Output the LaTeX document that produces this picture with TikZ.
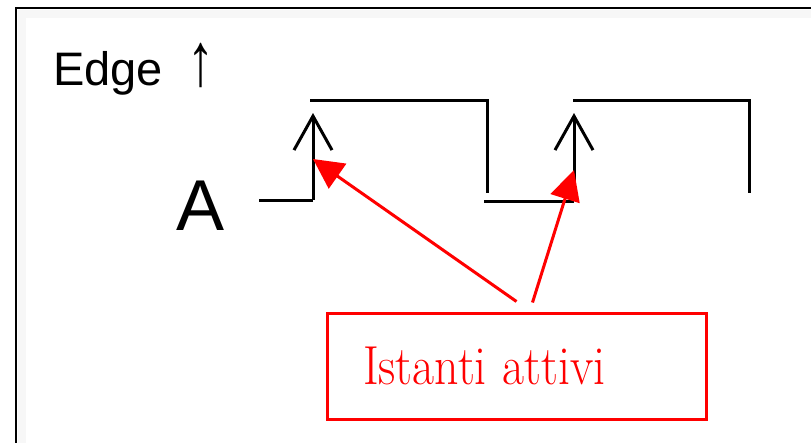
\documentclass[tikz,border=0pt]{standalone}
\usepackage{fontspec}
\newfontfamily\arialsans{Liberation Sans}
\usetikzlibrary{positioning,arrows.meta,calc}
\tikzset{
  wave/.style={line width=3pt},
  edgeup/.style={wave, -{Straight Barb[length=34pt,width=38pt,line width=3pt]}},
  pointer/.style={red, line width=3pt, -{Triangle[length=30pt,width=30pt]}},
  labelbox/.style={draw=red, text=red, line width=3pt, minimum height=106pt,
    text width=307pt, inner xsep=36pt, align=left, font=\fontsize{55}{60}\selectfont}
}

\begin{document}
\begin{tikzpicture}[x=1pt, y=-1pt]
  \useasboundingbox (0,0) rectangle (811,442);
  \clip (0,0) rectangle (811,442);
  % frame
  \draw[black!3, line width=8pt] (22,460) -- (22,14) -- (830,14);
  \draw[line width=2pt] (16,8) rectangle (830,460);
  % labels
  \node[anchor=base west, inner sep=0pt, font=\arialsans\fontsize{47}{50}\selectfont] (title) at (53,85) {Edge\hspace{25pt}\scalebox{1.15}[1.6]{↑}};
  \node[anchor=base west, inner sep=0pt, font=\arialsans\fontsize{72}{80}\selectfont] (sigA) at (176,230) {A};
  % signal A
  \coordinate (lo0) at (259,200);
  \coordinate (up1) at (313,200);
  \coordinate (dn1) at (487,100);
  \coordinate (lo1) at (484,201);
  \coordinate (up2) at (574,201);
  \coordinate (dn2) at (749,100);
  \draw[wave] (lo0) -- (up1);
  \draw[edgeup] (up1) -- ++(0,-87);
  \draw[wave] (310,100) -- (dn1) -- ++(0,93);
  \draw[wave] (lo1) -- (up2);
  \draw[edgeup] (up2) -- ++(0,-88);
  \draw[wave] (573,100) -- (dn2) -- ++(0,93);
  % active instants
  \coordinate (hit1) at (313,159);
  \coordinate (hit2) at (574,170);
  \node[labelbox] (note) at (516.5,366) {\scalebox{0.87}[1]{Istanti attivi}};
  \draw[pointer] ([yshift=10pt]note.north) -- (hit1);
  \draw[pointer] ([xshift=16pt,yshift=9pt]note.north) -- (hit2);
\end{tikzpicture}
\end{document}
